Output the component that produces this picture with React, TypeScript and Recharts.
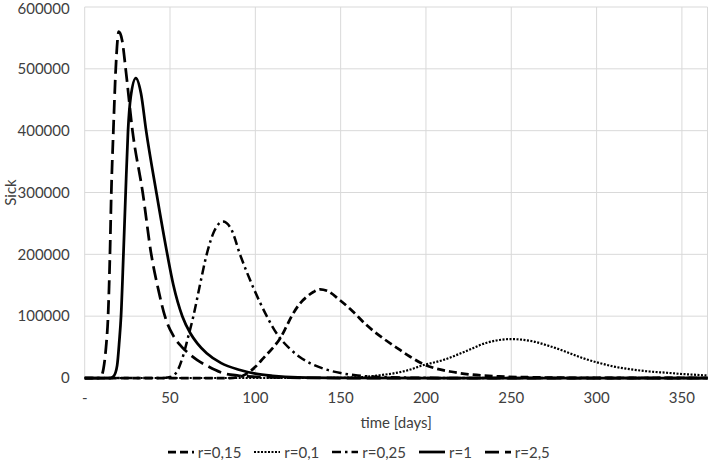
import React from 'react';
import { LineChart, Line, XAxis, YAxis, CartesianGrid, Legend } from 'recharts';

// ---- data ----
const days015 = [0, 85, 91, 95, 100, 105, 110, 114.5, 118, 121.3, 126, 130, 134, 138, 142, 149.5, 157, 165, 175, 185, 191, 198, 205, 214, 225, 243, 260, 300, 365];
const sick015 = [0, 0, 2000, 7000, 18000, 33000, 48000, 64000, 82000, 100000, 120000, 131000, 139000, 143500, 141000, 126000, 108000, 86000, 64000, 45000, 34000, 23000, 16000, 10500, 6000, 2500, 1200, 200, 0];

const days01 = [0, 140, 155, 165, 173, 181, 190, 197.5, 210, 224, 235.6, 243, 250, 256, 263, 272, 282, 292, 302, 311, 321.5, 331, 341, 350, 359, 365];
const sick01 = [0, 0, 700, 2000, 4500, 7500, 13000, 20000, 29000, 44000, 57000, 61500, 63000, 62000, 59000, 52000, 42500, 32000, 24000, 18000, 13500, 10500, 8500, 6500, 5000, 4000];

const days025 = [0, 45, 48, 50, 54, 57.8, 60.5, 63.7, 67.5, 71.5, 76, 81, 86, 91, 99, 106.7, 113, 120, 126, 132, 140, 150, 160, 175, 200, 230, 365];
const sick025 = [0, 0, 700, 1500, 10000, 37000, 65000, 100000, 150000, 200000, 238000, 253000, 240000, 200000, 145000, 100000, 70000, 48000, 34000, 24000, 15000, 8000, 4000, 1500, 300, 0, 0];

const days1 = [0, 15, 17, 19, 20.3, 21.3, 22.7, 24, 25.4, 27, 30, 33, 36, 42, 48.4, 52, 57.2, 62, 66, 71.5, 80, 91, 100, 110, 125, 150, 200, 365];
const sick1 = [0, 0, 3000, 20000, 60000, 100000, 200000, 300000, 400000, 455000, 485000, 460000, 400000, 300000, 200000, 150000, 100000, 72000, 56000, 40000, 24000, 13000, 7000, 3500, 1000, 200, 0, 0];

const days25 = [0, 8, 9.5, 11, 12.5, 13.7, 14.8, 15.6, 16.8, 18.2, 20, 22, 24, 28, 34, 39, 43, 47, 52, 57, 61.7, 66, 71.5, 81, 90, 100, 120, 150, 365];
const sick25 = [0, 0, 2000, 15000, 50000, 100000, 200000, 300000, 400000, 500000, 560000, 545000, 500000, 400000, 300000, 200000, 145000, 100000, 68000, 50000, 38000, 29000, 20000, 8000, 4000, 2000, 500, 0, 0];

const xTicks = [0, 50, 100, 150, 200, 250, 300, 350];
const yTicks = [0, 100000, 200000, 300000, 400000, 500000, 600000];

const toPoints = (xs: number[], ys: number[]) => xs.map((x, i) => ({ x, y: ys[i] }));

const SERIES = [
  { name: 'r=0,15', data: toPoints(days015, sick015), dash: '8 4', width: 2.75 },
  { name: 'r=0,1', data: toPoints(days01, sick01), dash: '2 1.5', width: 2.2 },
  { name: 'r=0,25', data: toPoints(days025, sick025), dash: '9 4 2.5 4', width: 2.5 },
  { name: 'r=1', data: toPoints(days1, sick1), dash: undefined, width: 2.75 },
  { name: 'r=2,5', data: toPoints(days25, sick25), dash: '14 6', width: 2.75 },
];

const FONT = 'Lato, "Open Sans", sans-serif';
const TEXT = '#404040';
const GRID = '#d9d9d9';

const LegendContent = () => (
  <div style={{ display: 'flex', justifyContent: 'center', alignItems: 'center', height: 28, fontFamily: FONT, fontSize: 15, color: TEXT, paddingLeft: 10 }}>
    {SERIES.map((s, i) => (
      <div key={s.name} style={{ display: 'flex', alignItems: 'center', marginRight: i === SERIES.length - 1 ? 0 : 13 }}>
        <svg width={26} height={10}>
          <line x1={0} y1={5} x2={26} y2={5} stroke="#000" strokeWidth={s.width} strokeDasharray={s.dash} />
        </svg>
        <span style={{ marginLeft: 4 }}>{s.name}</span>
      </div>
    ))}
  </div>
);

export default function App() {
  return (
    <div style={{ position: 'absolute', left: 0, top: 0, background: '#fff' }}>
      <LineChart width={709} height={466} margin={{ top: 7, right: 1.5, left: 0, bottom: 0 }}>
        <CartesianGrid stroke={GRID} strokeWidth={1} />
        <XAxis
          type="number"
          dataKey="x"
          domain={[0, 365]}
          ticks={xTicks}
          tickFormatter={(v: number) => (v === 0 ? '-' : String(v))}
          tick={{ fill: TEXT, fontSize: 15, fontFamily: FONT }}
          tickLine={false}
          tickSize={0}
          tickMargin={14}
          axisLine={false}
          height={60}
          label={{
            content: (props: any) => {
              const vb = props.viewBox;
              return (
                <text x={vb.x + vb.width / 2} y={428} textAnchor="middle" fill={TEXT} fontSize={15} fontFamily={FONT}>
                  time [days]
                </text>
              );
            },
          }}
        />
        <YAxis
          type="number"
          domain={[0, 600000]}
          ticks={yTicks}
          tick={{ fill: TEXT, fontSize: 15, fontFamily: FONT }}
          tickLine={false}
          tickSize={0}
          tickMargin={15}
          axisLine={false}
          width={84.7}
          label={{
            content: (props: any) => {
              const vb = props.viewBox;
              const cy = vb.y + vb.height / 2;
              return (
                <text x={16} y={cy} textAnchor="middle" fill={TEXT} fontSize={15} fontFamily={FONT} transform={`rotate(-90 16 ${cy})`}>
                  Sick
                </text>
              );
            },
          }}
        />
        <Legend verticalAlign="bottom" content={<LegendContent />} />
        {SERIES.map((s) => (
          <Line
            key={s.name}
            data={s.data}
            dataKey="y"
            name={s.name}
            type="monotone"
            stroke="#000"
            strokeWidth={s.width}
            strokeDasharray={s.dash}
            dot={false}
            activeDot={false}
            isAnimationActive={false}
          />
        ))}
      </LineChart>
    </div>
  );
}
